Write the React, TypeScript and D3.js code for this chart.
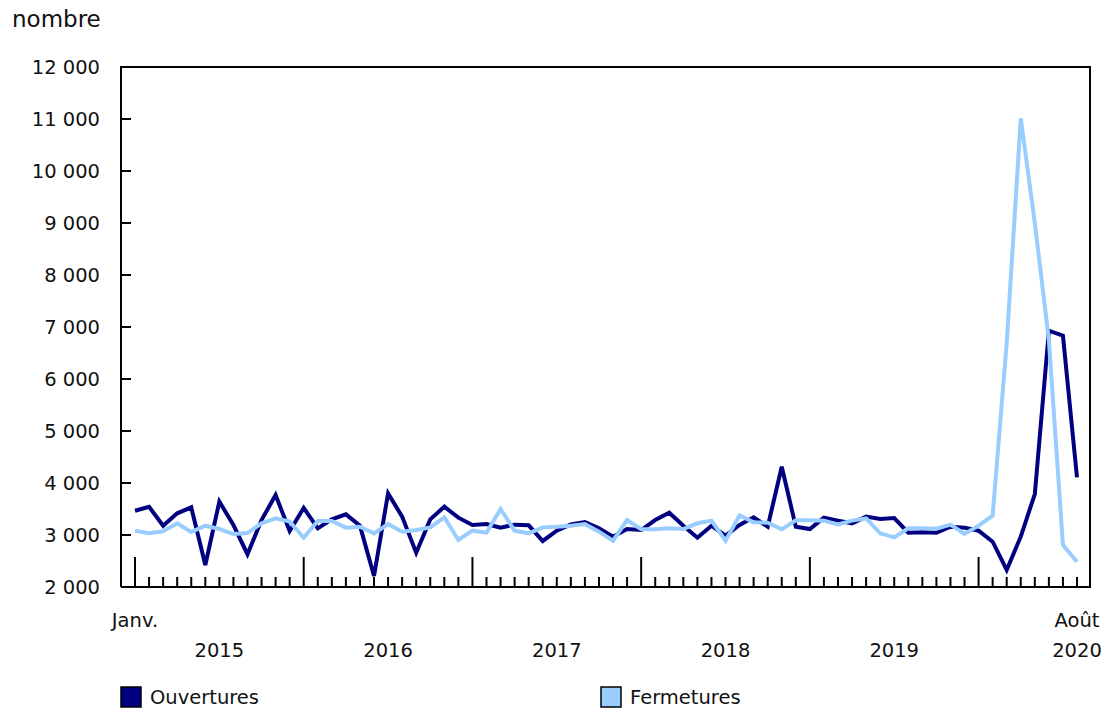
import React from "react";
import * as d3 from "d3";

const ouvertures = [
  3467, 3544, 3179, 3417, 3532, 2423, 3641, 3192, 2630, 3288, 3769, 3075,
  3520, 3128, 3301, 3397, 3179, 2212, 3801, 3353, 2660, 3301, 3544, 3333,
  3192, 3212, 3141, 3199, 3186, 2885, 3083, 3205, 3250, 3128, 2968, 3115,
  3096, 3288, 3429, 3179, 2948, 3179, 2987, 3192, 3340, 3160, 4314, 3160,
  3115, 3333, 3276, 3225, 3353, 3308, 3327, 3045, 3051, 3045, 3160, 3141,
  3083, 2871, 2327, 2968, 3788, 6929, 6833, 4109,
];

const fermetures = [
  3083, 3032, 3071, 3225, 3058, 3179, 3115, 3019, 3038, 3225, 3321, 3260,
  2948, 3269, 3269, 3141, 3160, 3032, 3212, 3064, 3096, 3147, 3340, 2904,
  3083, 3045, 3500, 3083, 3032, 3147, 3160, 3179, 3212, 3064, 2891, 3288,
  3109, 3109, 3128, 3115, 3225, 3276, 2891, 3378, 3243, 3237, 3109, 3282,
  3282, 3276, 3205, 3276, 3321, 3032, 2955, 3128, 3128, 3122, 3199, 3019,
  3179, 3372, 6690, 11013, 9000, 6750, 2808, 2487,
];

const years = ["2015", "2016", "2017", "2018", "2019", "2020"];
const yTicks = [2000, 3000, 4000, 5000, 6000, 7000, 8000, 9000, 10000, 11000, 12000];
const seriesNames = ["Ouvertures", "Fermetures"];
const colors = ["#000080", "#99ccff"];

const W = 1107;
const H = 711;
const FONT = "'DejaVu Sans', Verdana, sans-serif";
const FS = 19.5;

export default function App() {
  const n = ouvertures.length;
  const plotL = 121, plotR = 1090, plotT = 67, plotB = 587;
  const x = d3.scaleLinear().domain([0, n - 1]).range([135, 1077]);
  const y = d3.scaleLinear().domain([2000, 12000]).range([plotB, plotT]);
  const line = d3
    .line<number>()
    .x((_, i) => x(i))
    .y((d) => y(d));
  const fmt = (v: number) => d3.format(",")(v).replace(/,/g, " ");

  return (
    <svg
      width={W}
      height={H}
      style={{ position: "absolute", left: 0, top: 0, background: "#fff" }}
      fontFamily={FONT}
    >
      <text x={12} y={27} fontSize={23} fill="#111">nombre</text>

      {yTicks.map((t) => (
        <g key={t}>
          <line x1={plotL} x2={plotL + 10} y1={y(t)} y2={y(t)} stroke="#000" strokeWidth={2} />
          <text x={100} y={y(t)} dy="0.36em" textAnchor="end" fontSize={FS} fill="#111">
            {fmt(t)}
          </text>
        </g>
      ))}

      {d3.range(n).map((i) => (
        <line
          key={i}
          x1={x(i)}
          x2={x(i)}
          y1={i % 12 === 0 ? plotB - 30 : plotB - 10}
          y2={plotB}
          stroke="#000"
          strokeWidth={2}
        />
      ))}

      <path
        d={`M${plotL},${plotB}V${plotT}H${plotR}V${plotB}H${plotL}`}
        fill="none"
        stroke="#000"
        strokeWidth={2}
      />

      <path d={line(ouvertures) || ""} fill="none" stroke={colors[0]} strokeWidth={4} strokeLinejoin="miter" />
      <path d={line(fermetures) || ""} fill="none" stroke={colors[1]} strokeWidth={4} strokeLinejoin="miter" />

      <text x={x(0)} y={620} dy="0.36em" textAnchor="middle" fontSize={FS} fill="#111">Janv.</text>
      <text x={x(n - 1)} y={620} dy="0.36em" textAnchor="middle" fontSize={FS} fill="#111">Août</text>
      {years.map((yr, k) => {
        const start = k * 12;
        const end = Math.min(start + 12, n - 1);
        const cx = k === years.length - 1 ? x(n - 1) : (x(start) + x(end)) / 2;
        return (
          <text key={yr} x={cx} y={650} dy="0.36em" textAnchor="middle" fontSize={FS} fill="#111">
            {yr}
          </text>
        );
      })}

      {seriesNames.map((s, k) => {
        const lx = k === 0 ? 121 : 601;
        return (
          <g key={s}>
            <rect x={lx} y={687} width={20} height={20} fill={colors[k]} stroke="#000" strokeWidth={1.5} />
            <text x={lx + 29} y={697} dy="0.36em" fontSize={FS} fill="#111">{s}</text>
          </g>
        );
      })}
    </svg>
  );
}
